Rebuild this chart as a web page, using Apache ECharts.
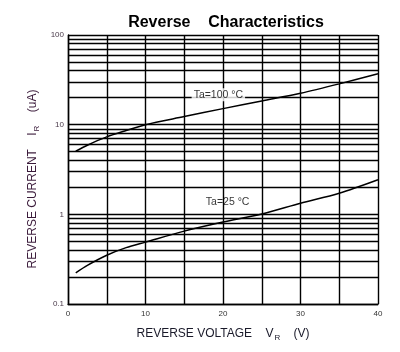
<!DOCTYPE html>
<html>
<head>
<meta charset="utf-8">
<script src="https://cdn.jsdelivr.net/npm/echarts@6/dist/echarts.min.js"></script>
<style>
  html, body { margin: 0; padding: 0; background: #fff; }
  #chart { width: 400px; height: 352px; }
</style>
</head>
<body>
<div id="chart"></div>
<script>
const FONT = '"Liberation Sans", Arial, sans-serif'

// reverse voltage (V) -> reverse current (uA)
const voltage = [1, 2.5, 5, 7.5, 10, 15, 20, 25, 30, 35, 40]
const hotI    = [5.05, 5.9, 7.3, 8.6, 10, 12.3, 15.1, 18.4, 22.4, 28.5, 37]
const roomI   = [0.223, 0.27, 0.35, 0.425, 0.49, 0.65, 0.82, 1.01, 1.33, 1.72, 2.43]

// minor log grid lines (2..9 of each decade)
const minorGrid = [0.2, 0.3, 0.4, 0.5, 0.6, 0.7, 0.8, 0.9,
                   2, 3, 4, 5, 6, 7, 8, 9,
                   20, 30, 40, 50, 60, 70, 80, 90]
const xLabels = [0, 10, 20, 30, 40]

// curve labels: [V, I, text, white box]
const curveLabels = [
  [19.4, 21.5, 'Ta=100 °C', true],
  [20.6, 1.36, 'Ta=25 °C', false],
]

const chart = echarts.init(document.getElementById('chart'))

const lineStyle = { color: '#000', width: 1.5 }
const gridLine = { color: '#000', width: 1.4 }

chart.setOption({
  animation: false,
  backgroundColor: '#fff',
  textStyle: { fontFamily: FONT },
  title: {
    text: 'Reverse    Characteristics',
    left: 221, top: 10, textAlign: 'center',
    textStyle: { fontFamily: FONT, fontSize: 16, fontWeight: 'bold', color: '#000' },
  },
  grid: { left: 68, right: 22, top: 35, bottom: 48 },
  xAxis: {
    type: 'value', min: 0, max: 40, interval: 5,
    axisLine: { show: true, lineStyle: gridLine },
    axisTick: { show: false },
    splitLine: { show: true, lineStyle: gridLine },
    axisLabel: {
      color: '#333', fontSize: 8, margin: 6, fontFamily: FONT,
      formatter: v => xLabels.includes(v) ? String(v) : '',
    },
    name: '{t|REVERSE VOLTAGE    V}{s|R}{t|    (V)}',
    nameLocation: 'middle', nameGap: 22,
    nameTextStyle: {
      rich: {
        t: { fontSize: 12, color: '#1a1a2a', fontFamily: FONT },
        s: { fontSize: 8, color: '#1a1a2a', fontFamily: FONT, padding: [8, 0, 0, 1] },
      },
    },
  },
  yAxis: {
    type: 'log', min: 0.1, max: 100, logBase: 10,
    axisLine: { show: true, lineStyle: gridLine },
    axisTick: { show: false },
    splitLine: { show: true, lineStyle: gridLine },
    axisLabel: {
      color: '#4a3a4a', fontSize: 8, margin: 4, fontFamily: FONT,
      formatter: v => String(+v.toPrecision(3)),
    },
  },
  graphic: [{
    type: 'text',
    x: 33, y: 179, rotation: Math.PI / 2,
    style: {
      text: '{t|REVERSE CURRENT    I}{s|R}{t|    (uA)}',
      align: 'center', verticalAlign: 'middle',
      rich: {
        t: { fontSize: 12, fill: '#3a1a3a', fontFamily: FONT },
        s: { fontSize: 8, fill: '#3a1a3a', fontFamily: FONT, padding: [8, 0, 0, 1] },
      },
    },
  }],
  series: [
    {
      type: 'line', silent: true, symbol: 'none', data: [],
      markLine: {
        silent: true, symbol: 'none', animation: false,
        label: { show: false },
        lineStyle: { ...gridLine, type: 'solid' },
        data: minorGrid.map(v => ({ yAxis: v })),
      },
    },
    {
      name: 'Ta=100', type: 'line', smooth: 0.3, symbol: 'none',
      lineStyle, data: voltage.map((v, i) => [v, hotI[i]]), z: 5,
    },
    {
      name: 'Ta=25', type: 'line', smooth: 0.3, symbol: 'none',
      lineStyle, data: voltage.map((v, i) => [v, roomI[i]]), z: 5,
    },
    {
      type: 'scatter', symbolSize: 0, z: 10,
      data: curveLabels.map(([v, i, t, bg]) => ({
        value: [v, i],
        label: {
          show: true, position: 'inside', formatter: t,
          fontSize: 10.5, color: '#000', fontFamily: FONT,
          backgroundColor: bg ? '#fff' : 'transparent',
          padding: bg ? [1, 2] : 0,
        },
      })),
    },
  ],
})
</script>
</body>
</html>
